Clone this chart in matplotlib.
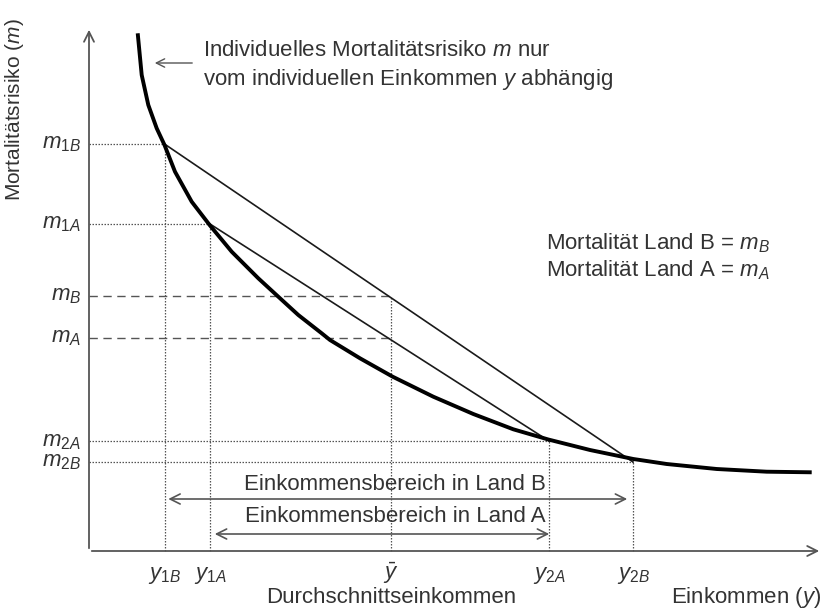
import matplotlib
matplotlib.use("Agg")
import matplotlib.pyplot as plt

plt.rcParams['font.family'] = ['Liberation Sans', 'DejaVu Sans']
plt.rcParams['mathtext.fontset'] = 'custom'
plt.rcParams['mathtext.rm'] = 'Liberation Sans'
plt.rcParams['mathtext.it'] = 'Liberation Sans:italic'

# Kurve: individuelles Mortalitaetsrisiko m(y)
kurve_y = [4.87, 5.27, 5.93, 6.77, 7.55, 8.60, 10.27, 12.10, 14.27, 16.93, 18.93, 20.93,
           23.27, 24.10, 27.10, 30.37, 34.43, 38.43, 42.43, 45.93, 50.10, 54.43, 57.77,
           62.77, 67.77, 72.27]
kurve_m = [51.77, 47.60, 44.60, 42.27, 40.60, 37.93, 34.93, 32.55, 29.93, 27.27, 25.43, 23.60,
           21.77, 21.10, 19.27, 17.43, 15.43, 13.70, 12.17, 11.15, 10.10, 9.20, 8.70,
           8.20, 7.93, 7.87]

# Einkommen (x-Achse)
y1B, y1A, y_quer, y2A, y2B = 7.55, 12.1, 30.2, 46.0, 54.4
x_ticks = [y1B, y1A, y_quer, y2A, y2B]
x_labels = [r'$y_{\mathit{1B}}$', r'$y_{\mathit{1A}}$', r'$\bar{y}$', r'$y_{\mathit{2A}}$', r'$y_{\mathit{2B}}$']

# Mortalitaet (y-Achse)
m1B, m1A, mB, mA, m2A, m2B = 40.7, 32.7, 25.5, 21.3, 11.0, 8.9
y_ticks = [m1B, m1A, mB, mA, m2A, m2B]
y_labels = [r'$m_{\mathit{1B}}$', r'$m_{\mathit{1A}}$', r'$m_B$', r'$m_A$', r'$m_{\mathit{2A}}$', r'$m_{\mathit{2B}}$']

txt = '#333333'
grau = '#555555'
fs = 16

fig = plt.figure(figsize=(8.24, 6.09), dpi=100)
ax = fig.add_axes([0, 0, 1, 1])
ax.set_xlim(-8.9, 73.5)
ax.set_ylim(-5.8, 55.1)
ax.axis('off')

# Achsen mit Pfeilen
ax.annotate('', xy=(73.3, 0), xytext=(0, 0),
            arrowprops=dict(arrowstyle='->', color=grau, lw=1.3, mutation_scale=18))
ax.annotate('', xy=(0, 52.4), xytext=(0, 0),
            arrowprops=dict(arrowstyle='->', color=grau, lw=1.3, mutation_scale=18))

# gepunktete Hilfslinien
dot = dict(color=grau, lw=0.9, ls=(0, (1.2, 1.2)))
for yy, mm in [(y1B, m1B), (y1A, m1A), (y2A, m2A), (y2B, m2B)]:
    ax.plot([0, yy], [mm, mm], **dot)
    ax.plot([yy, yy], [0, mm], **dot)
ax.plot([y_quer, y_quer], [0, mB], **dot)

# gestrichelte Linien fuer mB und mA
dash = dict(color=grau, lw=1.0, ls=(0, (6, 4)))
ax.plot([0, y_quer], [mB, mB], **dash)
ax.plot([0, y_quer], [mA, mA], **dash)

# Sehnen
ax.plot([y1B, y2B], [m1B, m2B], color='#1a1a1a', lw=1.2)
ax.plot([y1A, y2A], [m1A, m2A], color='#1a1a1a', lw=1.2)

# Kurve
ax.plot(kurve_y, kurve_m, color='black', lw=2.8, solid_capstyle='butt', solid_joinstyle='round')

# Tick-Beschriftungen
for v, lab in zip(y_ticks, y_labels):
    ax.text(-0.8, v, lab, ha='right', va='center', fontsize=fs, color=txt)
for v, lab in zip(x_ticks, x_labels):
    ax.text(v, -2.75, lab, ha='center', va='baseline', fontsize=fs, color=txt)

# Achsentitel
ax.text(-7.4, 44.1, u'Mortalitätsrisiko ($m$)', rotation=90, ha='center', va='center',
        fontsize=15, color=txt)
ax.text(y_quer, -4.65, 'Durchschnittseinkommen', ha='center', va='center', fontsize=fs, color=txt)
ax.text(73.2, -4.65, 'Einkommen ($y$)', ha='right', va='center', fontsize=fs, color=txt)

# Einkommensbereiche
ax.annotate('', xy=(y2B - 0.3, 5.2), xytext=(y1B + 0.1, 5.2),
            arrowprops=dict(arrowstyle='<->', color=grau, lw=1.2, mutation_scale=18))
ax.annotate('', xy=(y2A + 0.3, 1.7), xytext=(y1A + 0.2, 1.7),
            arrowprops=dict(arrowstyle='<->', color=grau, lw=1.2, mutation_scale=18))
ax.text(30.6, 6.7, 'Einkommensbereich in Land B', ha='center', va='center', fontsize=fs, color=txt)
ax.text(30.6, 3.4, 'Einkommensbereich in Land A', ha='center', va='center', fontsize=fs, color=txt)

# Legende rechts
ax.text(45.7, 30.8, u'Mortalität Land B = $m_B$', ha='left', va='center', fontsize=fs, color=txt)
ax.text(45.7, 28.1, u'Mortalität Land A = $m_A$', ha='left', va='center', fontsize=fs, color=txt)

# Hinweis zur Kurve
ax.annotate('', xy=(6.3, 48.8), xytext=(10.6, 48.8),
            arrowprops=dict(arrowstyle='->', color=grau, lw=1.0, mutation_scale=15))
ax.text(11.4, 50.1, u'Individuelles Mortalitätsrisiko $m$ nur', ha='left', va='center',
        fontsize=fs, color=txt)
ax.text(11.4, 47.1, u'vom individuellen Einkommen $y$ abhängig', ha='left', va='center',
        fontsize=fs, color=txt)

fig.savefig('out.png', dpi=100)
